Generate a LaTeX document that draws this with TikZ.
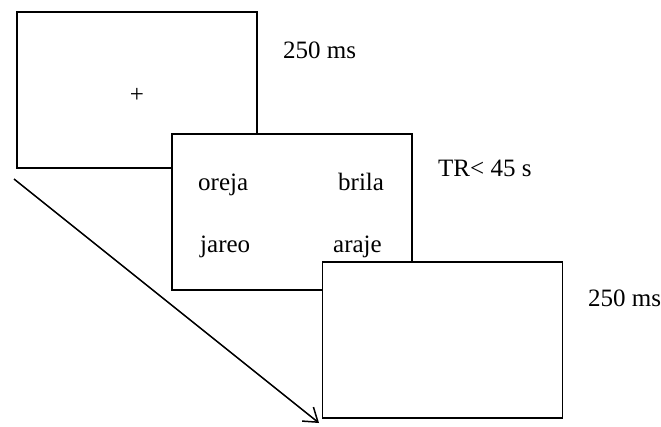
\documentclass[tikz,border=0pt]{standalone}
\usepackage{fontspec}
\setmainfont{Liberation Serif}
\usetikzlibrary{arrows.meta}
\begin{document}
\begin{tikzpicture}[x=1pt,y=-1pt,
  screen/.style={draw=black,fill=white,line width=1.7pt,minimum width=240pt,minimum height=156pt,inner sep=0pt},
  label/.style={anchor=base west,inner sep=0pt,font=\fontsize{25}{29}\selectfont},
  timeflow/.style={line width=1.5pt,-{Straight Barb[length=13pt,width=18pt,line width=1.5pt]}}]
\useasboundingbox (0,0) rectangle (661,426);
% three successive screens, each drawn over the previous one
\node[screen] (fixation) at (137,90) {};
\node[label,anchor=center] (cross) at (137,95) {+};
\node[label] (t1) at (283,58) {250 ms};

\node[screen] (words) at (292,212) {};
\node[label] (w1) at (198,190) {oreja};
\node[label] (w2) at (338,190) {brila};
\node[label] (w3) at (200,252) {jareo};
\node[label] (w4) at (333,252) {araje};
\node[label] (t2) at (438,176) {TR< 45 s};

\node[screen] (blank) at (442.5,340) {};
\node[label] (t3) at (588,306) {250 ms};

% time axis
\coordinate (start) at (14,179);
\coordinate (end) at (319,423);
\draw[timeflow] (start) -- (end);
\end{tikzpicture}
\end{document}
